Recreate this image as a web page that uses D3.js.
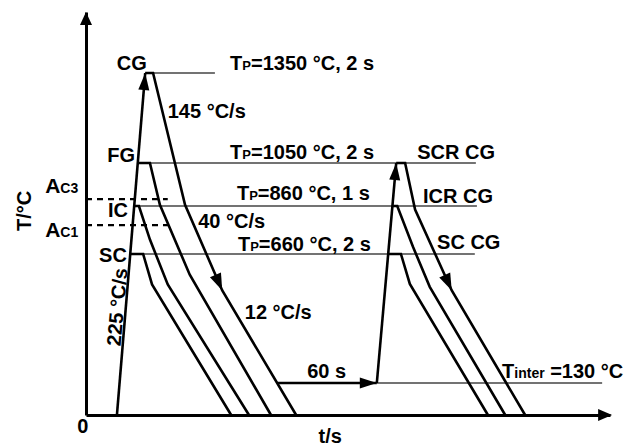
<!DOCTYPE html>
<html>
<head>
<meta charset="utf-8">
<script src="https://cdn.jsdelivr.net/npm/d3@7"></script>
<style>
body { margin: 0; background: #fff; }
text { font-family: "Liberation Sans", Arial, sans-serif; font-weight: bold; fill: #000; }
</style>
</head>
<body>
<div id="chart"></div>
<script>
let w = 627
let h = 447

// schematic temperature levels, °C
let peakTemps = [1350, 1050, 860, 660]
let acTemps = [890, 780]      // Ac3, Ac1
let interTemp = 130

// first cycle: heating line [t, T]
let heat1 = [[5.9, 0], [11.3, 1350]]
// cooling curves: plateau end, break points, end at 0
let coolCG = [[12.8, 1350], [18.9, 865], [26.0, 510], [40.1, 0]]
let coolFG = [[12.2, 1050], [14.1, 865], [19.8, 575], [35.3, 0]]
let coolIC = [[10.1, 860], [12.2, 720], [15.6, 535], [31.1, 0]]
let coolSC = [[10.9, 660], [12.6, 535], [27.7, 0]]

// 60 s hold at Tinter
let hold = [[36.6, 130], [55.5, 130]]

// second cycle
let heat2 = [[55.5, 130], [59.2, 1050]]
let coolSCR = [[60.9, 1050], [62.8, 845], [69.8, 510], [83.8, 0]]
let coolICR = [[59.4, 860], [62.4, 690], [65.6, 525], [80.0, 0]]
let coolSCCG = [[60.1, 660], [61.8, 537], [76.7, 0]]

// thin reference lines [T, tStart, tEnd]
let refLines = [[1350, 11.3, 24.6], [1050, 9.8, 74.4], [860, 9.2, 74.6], [660, 8.4, 74.2], [130, 55.5, 98.5]]
// dashed Ac lines [T, tEnd]
let acLines = [[890, 15.6], [780, 16.0]]

let x = d3.scaleLinear()
	.domain([0, 100])
	.range([86, 610])

// schematic (piecewise) temperature axis
let y = d3.scaleLinear()
	.domain([0, 130, 660, 860, 1050, 1350, 1600])
	.range([415, 383, 254, 206, 163, 73, 12])

let svg = d3.select("#chart")
	.append("svg")
	.attr("width", w)
	.attr("height", h)

let line = d3.line()
	.x(d => x(d[0]))
	.y(d => y(d[1]))

// time on a heating line at temperature T
let heatT = (hl, T) => {
	let a = hl[0], b = hl[1]
	let f = (y(T) - y(a[1])) / (y(b[1]) - y(a[1]))
	return x.invert(x(a[0]) + f * (x(b[0]) - x(a[0])))
}

let arrowHead = (tip, from, len, half) => {
	let tx = x(tip[0]), ty = y(tip[1])
	let dx = tx - x(from[0]), dy = ty - y(from[1])
	let l = Math.sqrt(dx * dx + dy * dy)
	let ux = dx / l, uy = dy / l
	let bx = tx - ux * len, by = ty - uy * len
	return "M" + tx + "," + ty +
		"L" + (bx - uy * half) + "," + (by + ux * half) +
		"L" + (bx + uy * half) + "," + (by - ux * half) + "Z"
}

// axes (no ticks)
let yAxis = svg.append("g")
	.attr("transform", "translate(" + x(0) + ",0)")
	.call(d3.axisLeft(y).tickValues([]).tickSizeOuter(0))
let xAxis = svg.append("g")
	.attr("transform", "translate(0," + y(0) + ")")
	.call(d3.axisBottom(x).tickValues([]).tickSizeOuter(0))
svg.selectAll(".domain").attr("stroke", "#000").attr("stroke-width", 3)

// thin reference lines
svg.selectAll(".ref")
	.data(refLines)
	.enter().append("line")
	.attr("class", "ref")
	.attr("x1", d => x(d[1]))
	.attr("x2", d => x(d[2]))
	.attr("y1", d => y(d[0]))
	.attr("y2", d => y(d[0]))
	.attr("stroke", "#444")
	.attr("stroke-width", 1.3)

// dashed Ac lines
svg.selectAll(".ac")
	.data(acLines)
	.enter().append("line")
	.attr("class", "ac")
	.attr("x1", x(0))
	.attr("x2", d => x(d[1]))
	.attr("y1", d => y(d[0]))
	.attr("y2", d => y(d[0]))
	.attr("stroke", "#000")
	.attr("stroke-width", 2.2)
	.attr("stroke-dasharray", "6,5")

// heating + cooling curves
let curves = [
	[heat1, coolCG], [heat1, coolFG], [heat1, coolIC], [heat1, coolSC],
	[heat2, coolSCR], [heat2, coolICR], [heat2, coolSCCG]
].map(c => [[heatT(c[0], c[1][0][1]), c[1][0][1]]].concat(c[1]))

let paths = [heat1, hold, heat2].concat(curves)

svg.selectAll(".curve")
	.data(paths)
	.enter().append("path")
	.attr("class", "curve")
	.attr("d", line)
	.attr("fill", "none")
	.attr("stroke", "#000")
	.attr("stroke-width", 2.6)
	.attr("stroke-linejoin", "miter")

// arrowheads
let arrows = [
	[[0, 1600], [0, 0], 13, 6],
	[[100.4, 0], [0, 0], 14, 6],
	[heat1[1], heat1[0], 17, 5.5],
	[heat2[1], heat2[0], 17, 5.5],
	[hold[1], hold[0], 17, 5.5],
	[coolCG[2], coolCG[1], 17, 6],
	[coolSCR[2], coolSCR[1], 17, 6]
]
svg.selectAll(".arrow")
	.data(arrows)
	.enter().append("path")
	.attr("class", "arrow")
	.attr("d", d => arrowHead(d[0], d[1], d[2], d[3]))
	.attr("fill", "#000")

// labels: parts are [text, size]
let labels = [
	{ parts: [["CG", 20]], t: 11.6, T: 1350, dy: -3, anchor: "end" },
	{ parts: [["FG", 20]], t: 9.35, T: 1050, dy: -1, anchor: "end" },
	{ parts: [["IC", 20]], t: 8.0, T: 860, dy: 11, anchor: "end" },
	{ parts: [["SC", 20]], t: 7.8, T: 660, dy: 8, anchor: "end" },
	{ parts: [["T", 20], ["P", 13], ["=1350 °C, 2 s", 20]], t: 27.5, T: 1350, dy: -3 },
	{ parts: [["T", 20], ["P", 13], ["=1050 °C, 2 s", 20]], t: 27.5, T: 1050, dy: -4 },
	{ parts: [["T", 20], ["P", 13], ["=860 °C, 1 s", 20]], t: 28.8, T: 860, dy: -6 },
	{ parts: [["T", 20], ["P", 13], ["=660 °C, 2 s", 20]], t: 29.0, T: 660, dy: -3 },
	{ parts: [["SCR CG", 20]], t: 63.2, T: 1050, dy: -4 },
	{ parts: [["ICR CG", 20]], t: 64.3, T: 860, dy: -3 },
	{ parts: [["SC CG", 20]], t: 67.0, T: 660, dy: -5 },
	{ parts: [["145 °C/s", 20]], t: 15.6, T: 1200, dy: 0 },
	{ parts: [["40 °C/s", 20]], t: 21.4, T: 770, dy: 0 },
	{ parts: [["12 °C/s", 20]], t: 30.3, T: 395, dy: 0 },
	{ parts: [["60 s", 20]], t: 42.2, T: 130, dy: -5 },
	{ parts: [["T", 20], ["inter", 14], [" =130 °C", 20]], t: 79.4, T: 130, dy: -5 },
	{ parts: [["A", 21], ["C3", 14]], t: -7.8, T: 890, dy: -6 },
	{ parts: [["A", 21], ["C1", 14]], t: -7.8, T: 780, dy: 12 },
	{ parts: [["T/°C", 20]], t: -10.5, T: 840, dy: 0, anchor: "middle", rotate: -90 },
	{ parts: [["225 °C/s", 20]], t: 7.25, T: 440, dy: 0, anchor: "middle", rotate: -85 },
	{ parts: [["0", 20]], t: -0.6, T: 0, dy: 18, anchor: "middle" },
	{ parts: [["t/s", 20]], t: 46.6, T: 0, dy: 28, anchor: "middle" }
]

let lab = svg.selectAll(".label")
	.data(labels)
	.enter().append("text")
	.attr("class", "label")
	.attr("text-anchor", d => d.anchor || "start")
	.attr("transform", d => "translate(" + x(d.t) + "," + (y(d.T) + d.dy) + ")" + (d.rotate ? " rotate(" + d.rotate + ")" : ""))

lab.selectAll("tspan")
	.data(d => d.parts)
	.enter().append("tspan")
	.attr("font-size", d => d[1])
	.text(d => d[0])
</script>
</body>
</html>
